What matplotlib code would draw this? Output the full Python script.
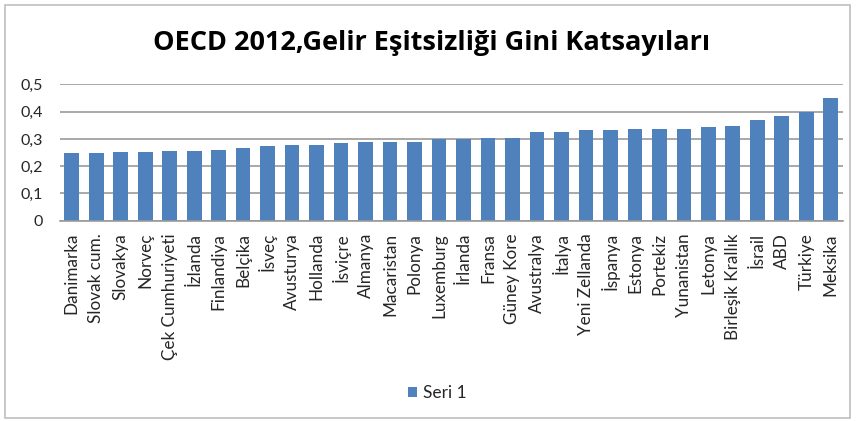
import matplotlib.pyplot as plt
from matplotlib.patches import Rectangle

# data
countries = ['Danimarka', 'Slovak cum.', 'Slovakya', 'Norveç', 'Çek Cumhuriyeti',
             'İzlanda', 'Finlandiya', 'Belçika', 'İsveç', 'Avusturya', 'Hollanda',
             'İsviçre', 'Almanya', 'Macaristan', 'Polonya', 'Luxemburg', 'İrlanda',
             'Fransa', 'Güney Kore', 'Avustralya', 'İtalya', 'Yeni Zellanda',
             'İspanya', 'Estonya', 'Portekiz', 'Yunanistan', 'Letonya',
             'Birleşik Krallık', 'İsrail', 'ABD', 'Türkiye', 'Meksika']
gini = [0.248, 0.249, 0.250, 0.252, 0.256, 0.256, 0.260, 0.267, 0.273, 0.276,
        0.278, 0.286, 0.288, 0.288, 0.288, 0.300, 0.300, 0.303, 0.303, 0.326,
        0.326, 0.331, 0.333, 0.337, 0.337, 0.337, 0.344, 0.348, 0.369, 0.386,
        0.400, 0.452]
yticks = [0, 0.1, 0.2, 0.3, 0.4, 0.5]
ytick_labels = ['0', '0,1', '0,2', '0,3', '0,4', '0,5']

plt.rcParams['font.family'] = ['Lato', 'DejaVu Sans']

fig = plt.figure(figsize=(8.56, 4.21), dpi=100)
ax = fig.add_axes([59.5 / 856, 1 - 220.5 / 421, (843 - 59.5) / 856, (220.5 - 84.5) / 421])

x = range(len(countries))
ax.bar(x, gini, width=0.6, color='#4f81bd', label='Seri 1', zorder=2)

ax.set_ylim(0, 0.5)
ax.set_xlim(-0.5, len(countries) - 0.5)
ax.set_yticks(yticks)
ax.set_yticklabels(ytick_labels, fontsize=11.5, color='#262626')
ax.set_xticks(list(x))
ax.set_xticklabels(countries, rotation=90, fontsize=12.3, va='top', color='#262626')
ax.tick_params(axis='x', length=0, pad=9)
ax.tick_params(axis='y', length=0, pad=12)

ax.grid(axis='y', color='#9a9a9a', linewidth=1.2, zorder=0)
for s in ['top', 'right', 'left']:
    ax.spines[s].set_visible(False)
ax.spines['bottom'].set_color('#9a9a9a')
ax.spines['bottom'].set_linewidth(1.2)

fig.text(432 / 856, 1 - 50 / 421, 'OECD 2012,Gelir Eşitsizliği Gini Katsayıları',
         ha='center', va='baseline', fontsize=19.5, fontweight='bold',
         family=['Open Sans', 'DejaVu Sans'])

fig.legend(loc='center', bbox_to_anchor=(437 / 856, 1 - 393 / 421), frameon=False,
           fontsize=12.5, handlelength=0.55, handleheight=0.55, handletextpad=0.3,
           labelcolor='#262626')

# light frame round the whole chart
fig.patches.append(Rectangle((5 / 856, 3 / 421), 845 / 856, 413 / 421,
                             transform=fig.transFigure, fill=False,
                             edgecolor='#bfbfbf', linewidth=1.2))

fig.savefig('out.png', dpi=100)
